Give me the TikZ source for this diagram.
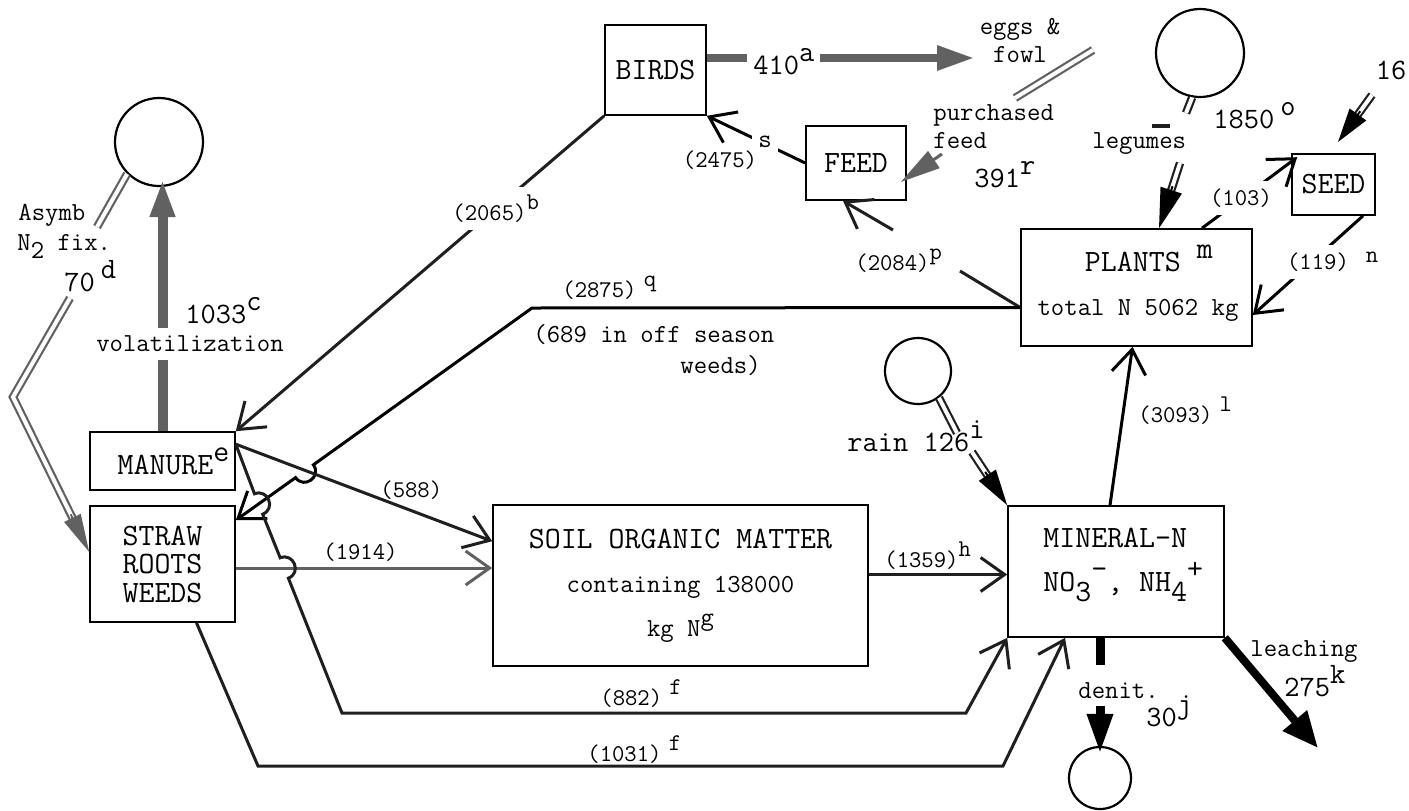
\documentclass[tikz,border=0pt]{standalone}
\usetikzlibrary{arrows.meta,calc}
\newcommand\hup[1]{\raisebox{0.42em}{#1}}
\newcommand\hdn[1]{\raisebox{-0.33em}{#1}}
\newcommand\boxfont{\ttfamily\fontsize{15.5}{22}\selectfont}
\newcommand\numfont{\ttfamily\fontsize{14.8}{16}\selectfont}
\newcommand\labfont{\ttfamily\fontsize{13}{14}\selectfont}
\newcommand\flowfont{\ttfamily\fontsize{12}{13}\selectfont}
\colorlet{inkgray}{black!62}
\colorlet{inkdark}{black!88}
\tikzset{
  pool/.style={draw=black,line width=0.8pt,inner sep=0pt,font=\boxfont,align=center},
  sink/.style={circle,draw=black,line width=1.1pt,inner sep=0pt},
  flow/.style={inkdark,line width=1.5pt,-{Straight Barb[length=12pt,width=17pt]}},
  fatflow/.style={line width=4.5pt,-{Triangle[length=19pt,width=11.5pt]}},
  dbl/.style={draw=#1,double=white,line width=1.1pt,double distance=2pt},
  dblhead/.style={draw=#1,line width=1pt,-{Triangle[length=18pt,width=10pt]}},
  lbl/.style={font=\labfont,inner sep=0pt},
  num/.style={font=\numfont,inner sep=0pt},
  fl/.style={font=\flowfont,inner sep=0pt},
  wipe/.style={fill=white,inner sep=3pt}
}
\begin{document}
\begin{tikzpicture}[x=0.5pt,y=-0.5pt]
  \useasboundingbox (0,0) rectangle (1409,810);
  % pools
  \node[pool,minimum width=50.5pt,minimum height=45pt] (birds) at (655.5,70) {BIRDS};
  \node[pool,minimum width=50pt,minimum height=37pt] (feed) at (856,163) {FEED};
  \node[pool,minimum width=115.5pt,minimum height=58.5pt] (plants) at (1136.5,287.5) {};
  \node[font=\boxfont,align=center,inner sep=0pt] (plants-t) at (1138,283)
    {\hspace*{0.7em}PLANTS \hup{m}\\{\labfont total N 5062 kg}};
  \node[pool,minimum width=41.5pt,minimum height=30.5pt] (seed) at (1333.5,184.5) {SEED};
  \node[pool,minimum width=72.5pt,minimum height=29pt] (manure) at (162.5,461) {\hspace*{11pt}MANURE\hup{e}};
  \node[pool,minimum width=72.5pt,minimum height=58pt,font=\ttfamily\fontsize{15.5}{14.25}\selectfont] (straw)
    at (162.5,564) {STRAW\\ROOTS\\WEEDS};
  \node[pool,minimum width=187.5pt,minimum height=80.5pt] (soil) at (680.5,585.5)
    {SOIL ORGANIC MATTER\\{\labfont containing 138000}\\{\labfont kg N\hup{g}}};
  \node[pool,minimum width=108pt,minimum height=65.5pt] (mineral) at (1116,571.5) {};
  \node[font=\boxfont,align=left,anchor=west,inner sep=0pt] (mineral-t) at (1043,565)
    {MINERAL-N\\NO\hdn{3}\hup{-}, NH\hdn{4}\hup{+}};
  % sources and sinks
  \node[sink,minimum size=44pt] (air) at (159,142) {};
  \node[sink,minimum size=44pt] (legume) at (1200,53) {};
  \node[sink,minimum size=33pt] (rain) at (918,371) {};
  \node[sink,minimum size=31pt] (denit) at (1100,778) {};

  \coordinate (eggs) at (975,58);
  \coordinate (n2a) at (97,227);
  \coordinate (n2b) at (70,298);
  \coordinate (n2c) at (13,397);
  \coordinate (n2d) at ([yshift=6pt]straw.west);
  \coordinate (buy1) at (1093,50);
  \coordinate (buy2) at (1015,98);
  \coordinate (buy3) at (942,154);
  \coordinate (rain1) at (957,433);
  \coordinate (rain2) at (972,452);
  \coordinate (leg2) at (1186,113);
  \coordinate (leg3) at (1180,163);
  \coordinate (legtip) at ([xshift=11.25pt]plants.north);
  \coordinate (dash1) at (1152,126);
  \coordinate (dash2) at (1170,126);
  \coordinate (s16a) at (1372,95);
  \coordinate (s16b) at (1338,142);
  \coordinate (dn1) at (1100,665);
  \coordinate (dn2) at (1100,706);
  \coordinate (leach) at (1318,748);
  \coordinate (q2) at (532,308);
  \coordinate (f1) at (342,713);
  \coordinate (f2) at (966,713);
  \coordinate (g1) at (258,766);
  \coordinate (g2) at (1003,766);
  \coordinate (p2a) at (960,271);
  \coordinate (p2b) at (893,230);
  \coordinate (volt) at ([yshift=4pt]air.south);
  \coordinate (sr) at ([yshift=-2pt]straw.east);
  \coordinate (sm) at ([yshift=5.5pt]soil.east);

  % thin flows
  \draw[flow] (birds.south west) -- (manure.north east);
  \draw[flow,black] (feed.west) -- (birds.south east);
  \draw[inkdark,line width=1.5pt] ([yshift=-10pt]plants.west) -- (p2a);
  \draw[flow] (p2b) -- ([xshift=-6.5pt]feed.south);
  \draw[flow,black] ([yshift=-10pt]plants.west) -- (q2) -- (313.4,464.8)
    .. controls (321.9,476.7) and (304.1,489.5) .. (295.6,477.6)
    -- ([yshift=-7.5pt]straw.north east);
  \draw[flow] ([yshift=-6.5pt]manure.north east) -- ([yshift=-18.5pt]soil.north west);
  \draw[flow,inkgray] (sr) -- (sr -| soil.west);
  \draw[flow] ([yshift=-6.5pt]manure.north east) -- (254.5,493.8)
    .. controls (268,488.4) and (276.2,508.8) .. (262.7,514.2) -- (280.2,557.8)
    .. controls (293.7,552.4) and (301.9,572.8) .. (288.4,578.2)
    -- (f1) -- (f2) -- (mineral.south west);
  \draw[flow] ([xshift=17pt]straw.south) -- (g1) -- (g2) -- ([xshift=-25.5pt]mineral.south);
  \draw[flow] (sm) -- (sm -| mineral.west);
  \draw[flow,black] ([xshift=-3pt]mineral.north) -- ([xshift=-2pt]plants.south);
  \draw[flow,black] ([xshift=32.75pt]plants.north) -- ([shift={(3pt,-2pt)}]seed.north west);
  \draw[flow,black] ([xshift=14.75pt]seed.south) -- ([yshift=-13.75pt]plants.east);

  % heavy flows
  \draw[fatflow,inkgray,line width=4.3pt] ([yshift=6pt]birds.east) -- (eggs);
  \draw[fatflow,inkgray,line width=5pt] (manure.north) -- (manure.north |- volt);
  \draw[black,line width=4.5pt] ([xshift=-8pt]mineral.south) -- (dn1);
  \draw[fatflow,black,-{Triangle[length=20pt,width=12pt]}] (dn2) -- ([yshift=-4pt]denit.north);
  \draw[black,line width=4pt,-{Triangle[length=18pt,width=15pt]}] (mineral.south east) -- (leach);

  % double lines
  \draw[dbl=inkgray] (air.225) -- (n2a);
  \draw[dbl=inkgray,shorten >=15pt] (n2b) -- (n2c) -- (n2d);
  \draw[dblhead=inkgray,-{Triangle[length=19pt,width=9pt]}] ($(n2d)!21pt!(n2c)$) -- (n2d);
  \draw[dbl=inkgray] (buy1) -- (buy2);
  \draw[inkgray,line width=1.5pt,-{Triangle[length=20pt,width=10pt]}] (buy3) -- ([shift={(-3pt,-9.5pt)}]feed.east);
  \draw[dbl=inkdark] (rain.-52) -- (rain1);
  \draw[dbl=inkdark,shorten >=15pt] (rain2) -- (mineral.north west);
  \draw[dblhead=black] ($(mineral.north west)!20pt!(rain2)$) -- (mineral.north west);
  \draw[dbl=inkdark] (legume.-100) -- (leg2);
  \draw[inkdark,line width=1.6pt] (dash1) -- (dash2);
  \draw[dbl=inkdark,shorten >=16pt] (leg3) -- (legtip);
  \draw[dblhead=black,-{Triangle[length=20pt,width=11pt]}] ($(legtip)!22pt!(leg3)$) -- (legtip);
  \draw[dbl=inkdark,shorten >=14pt] (s16a) -- (s16b);
  \draw[dblhead=black,-{Triangle[length=17pt,width=10pt]}] ($(s16b)!19pt!(s16a)$) -- (s16b);

  % labels
  \node[num,wipe,anchor=base west] (l410) at (747,74) {410\hup{a}};
  \node[lbl,align=center] (leggs) at (1020,40) {eggs \&\\fowl};
  \node[lbl,align=left,anchor=west] (lpurch) at (933,127) {purchased\\feed};
  \node[num,anchor=base west] (l391) at (974,187) {391\hup{r}};
  \node[fl] (l2475) at (720,160) {(2475)};
  \node[lbl,wipe] (ls) at (765,142) {s};
  \node[fl,wipe,inner ysep=4pt,anchor=base west] (l2065) at (446,220) {(2065)\hup{b}};
  \node[num,anchor=base west] (l1033) at (185,323) {1033\hup{c}};
  \node[lbl,wipe,inner ysep=4pt] (lvol) at (190,344) {volatilization};
  \node[lbl,anchor=base west] (lasymb) at (18,220) {Asymb};
  \node[lbl,anchor=base west] (lfix) at (17,250) {N\hdn{2} fix.};
  \node[num,anchor=base west] (l70) at (64,291) {70\hspace{0.2em}\hup{d}};
  \node[fl,anchor=base west] (l2875) at (562,297) {(2875)\hspace{0.3em}\hup{q}};
  \node[lbl,anchor=base west] (l689a) at (533,342) {(689 in off season};
  \node[lbl,anchor=base west] (l689b) at (680,373) {weeds)};
  \node[fl,anchor=base west] (l588) at (380,497) {(588)};
  \node[fl,anchor=base west] (l1914) at (323,559) {(1914)};
  \node[fl,anchor=base west] (l882) at (600,705) {(882)\hspace{0.3em}\hup{f}};
  \node[fl,anchor=base west] (l1031) at (587,761) {(1031)\hspace{0.3em}\hup{f}};
  \node[fl,anchor=base west] (l1359) at (884,567) {(1359)\hup{h}};
  \node[num,anchor=base west] (lrain) at (847,451) {rain 126\hup{i}};
  \node[fl,anchor=base west] (l3093) at (1138,422) {(3093)\hspace{0.3em}\hup{l}};
  \node[lbl,anchor=base west] (ldenit) at (1078,698) {denit.};
  \node[num,anchor=base west] (l30) at (1146,726) {30\hup{j}};
  \node[lbl,anchor=base west] (lleach) at (1250,656) {leaching};
  \node[num,anchor=base west] (l275) at (1284,696) {275\hup{k}};
  \node[lbl,anchor=base west] (llegumes) at (1092,148) {legumes};
  \node[num,anchor=base west] (l1850) at (1213,128) {1850\hspace{0.2em}\hup{o}};
  \node[fl,wipe,inner ysep=4pt] (l103) at (1241,198) {(103)};
  \node[fl,wipe,inner ysep=4pt] (l119) at (1318,262) {(119)};
  \node[fl] (ln) at (1372,257) {n};
  \node[num] (l16) at (1391,70) {16};
  \node[fl,anchor=base west] (l2084) at (855,270) {(2084)\hup{p}};
\end{tikzpicture}
\end{document}
